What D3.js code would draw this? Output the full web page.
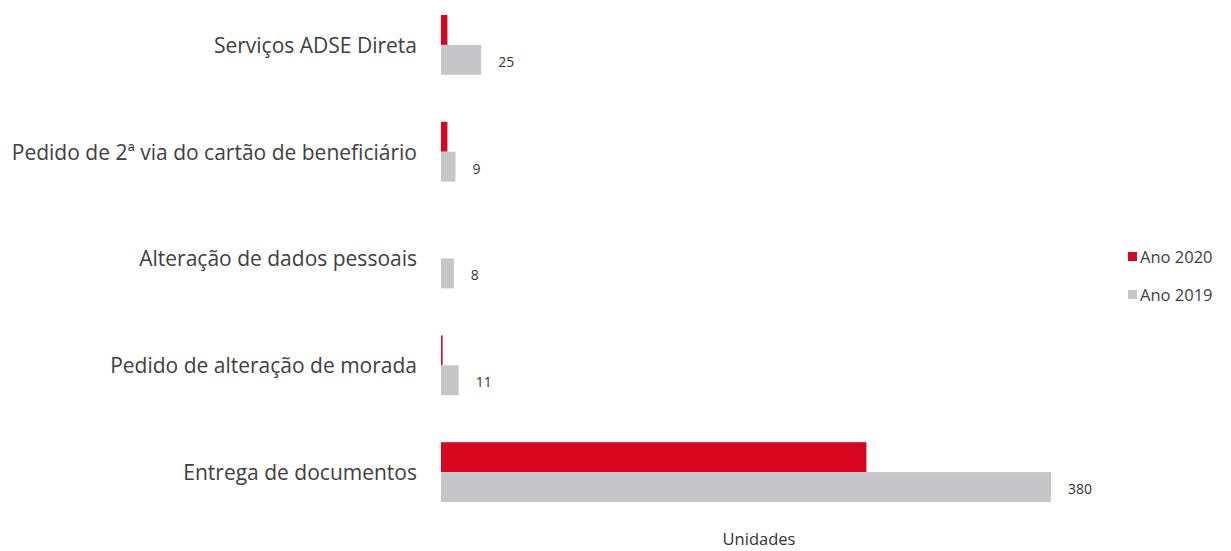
<!DOCTYPE html>
<html><head><meta charset="utf-8">
<script src="https://cdn.jsdelivr.net/npm/d3@7/dist/d3.min.js"></script>
<style>body{margin:0;background:#fff}svg{display:block}</style>
</head><body><svg id="c" width="1231" height="551"></svg>
<script>
const categories = ["Serviços ADSE Direta","Pedido de 2ª via do cartão de beneficiário","Alteração de dados pessoais","Pedido de alteração de morada","Entrega de documentos"];
const series = ["Ano 2020","Ano 2019"];
const values2020 = [4, 4, 0, 1, 265];
const values2019 = [25, 9, 8, 11, 380];
const axisTitle = "Unidades";

const svg = d3.select("#c");
const font = "'Open Sans', Lato, sans-serif";
const colors = {"Ano 2020":"#d7061e","Ano 2019":"#c6c6c8"};

const x = d3.scaleLinear().domain([0,380]).range([441,1051]);
const y = d3.scaleBand().domain(categories).range([-8.5,525.5]).paddingInner(0.44).paddingOuter(0.22);
const ys = d3.scaleBand().domain(series).range([0,y.bandwidth()]);

const data = categories.map((c,i)=>({c, v:{"Ano 2020":values2020[i],"Ano 2019":values2019[i]}}));

const g = svg.append("g");
const cg = g.selectAll("g.cat").data(data).join("g").attr("transform",d=>`translate(0,${y(d.c)})`);
cg.selectAll("rect").data(d=>series.map(s=>({s,v:d.v[s]}))).join("rect")
  .attr("x",x(0)).attr("y",d=>ys(d.s)).attr("height",ys.bandwidth())
  .attr("width",d=>Math.max(0,x(d.v)-x(0))).attr("fill",d=>colors[d.s]);
cg.append("text").attr("x",d=>x(d.v["Ano 2019"])+17).attr("y",ys("Ano 2019")+ys.bandwidth()/2+2)
  .attr("dy","0.35em").attr("font-family",font).attr("font-size",14).attr("fill","#333")
  .text(d=>d.v["Ano 2019"]);

// category axis labels
const yAxis = d3.axisLeft(y).tickSize(0).tickPadding(0);
const ag = svg.append("g").attr("transform","translate(417,0)").call(yAxis);
ag.select(".domain").remove();
ag.selectAll("text").attr("font-family",font).attr("font-size",21).attr("fill","#404040").attr("dy","0.38em");

svg.append("text").attr("x",759).attr("y",545).attr("text-anchor","middle")
  .attr("font-family",font).attr("font-size",16.5).attr("fill","#333").text(axisTitle);

const lg = svg.append("g").selectAll("g").data(series).join("g")
  .attr("transform",(d,i)=>`translate(1128,${257+i*38})`);
lg.append("rect").attr("x",0).attr("y",-5).attr("width",9).attr("height",9).attr("fill",d=>colors[d]);
lg.append("text").attr("x",12).attr("y",0).attr("dy","0.35em").attr("font-family",font).attr("font-size",16.5).attr("fill","#404040").text(d=>d);
</script></body></html>
